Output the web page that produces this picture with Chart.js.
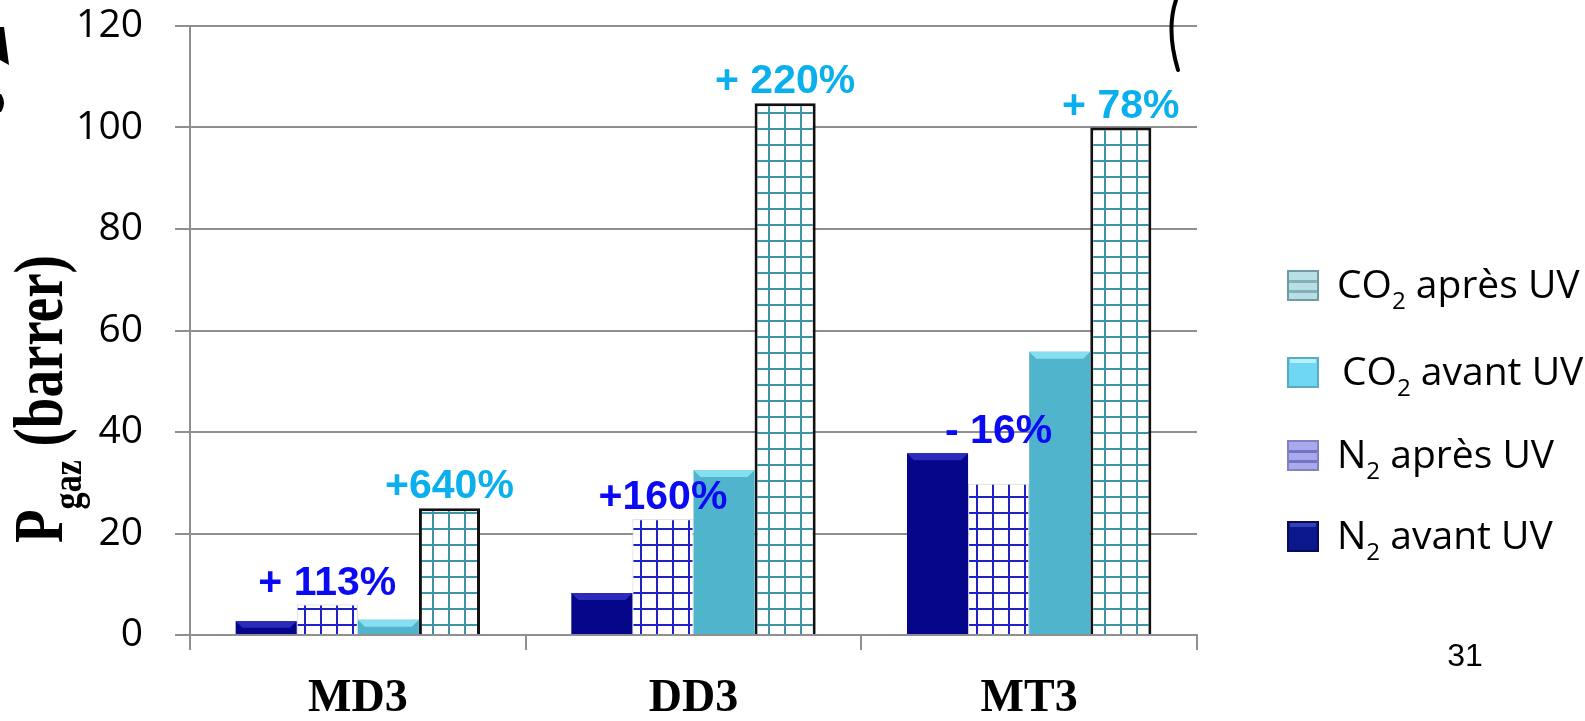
<!DOCTYPE html>
<html>
<head>
<meta charset="utf-8">
<script src="https://cdn.jsdelivr.net/npm/chart.js@4"></script>
<style>
  html, body { margin: 0; padding: 0; background: #fff; }
  #graf { display: block; width: 1585px; height: 721px; }
</style>
</head>
<body>
<canvas id="graf" width="1585" height="721"></canvas>
<script>
// valeurs (barrer)
const categories = ['MD3', 'DD3', 'MT3'];
const n2Avant = [2.7, 8.3, 35.8];
const n2Apres = [6, 22.8, 29.8];
const co2Avant = [3, 32.5, 55.8];
const co2Apres = [25, 104.8, 100];
const n2Change = ['+ 113%', '+160%', '- 16%'];
const co2Change = ['+640%', '+ 220%', '+ 78%'];
const yMin = 0, yMax = 120, yStep = 20;

const gris = '#8f8f8f';

// motif quadrillé pour les barres "après UV"
const quadrille = (couleur) => {
    const c = document.createElement('canvas');
    c.width = 16; c.height = 16;
    const g = c.getContext('2d');
    g.fillStyle = '#fff';
    g.fillRect(0, 0, 16, 16);
    g.fillStyle = couleur;
    g.fillRect(0, 0, 2, 16);
    g.fillRect(0, 0, 16, 2);
    return g.createPattern(c, 'repeat');
};

// biseau clair sur le haut des barres pleines
const bevelPlugin = {
    id: 'bevel',
    afterDatasetsDraw(chart) {
        const ctx = chart.ctx;
        [[0, '#2c2cb8'], [2, '#86dff0']].forEach(([ds, clair]) => {
            chart.getDatasetMeta(ds).data.forEach((bar) => {
                const l = bar.x - bar.width / 2, r = bar.x + bar.width / 2;
                const h = Math.min(7, (bar.base - bar.y) / 2);
                ctx.save();
                ctx.fillStyle = clair;
                ctx.beginPath();
                ctx.moveTo(l, bar.y);
                ctx.lineTo(r, bar.y);
                ctx.lineTo(r - 7, bar.y + h);
                ctx.lineTo(l + 7, bar.y + h);
                ctx.closePath();
                ctx.fill();
                ctx.restore();
            });
        });
    }
};

// pourcentages au-dessus des paires avant / après
const pourcentPlugin = {
    id: 'pourcent',
    afterDatasetsDraw(chart) {
        const ctx = chart.ctx;
        ctx.save();
        ctx.font = 'bold 41px "Liberation Sans", Arial, sans-serif';
        ctx.textAlign = 'center';
        ctx.textBaseline = 'alphabetic';
        categories.forEach((cat, i) => {
            [[0, 1, n2Change, '#0a0af5'], [2, 3, co2Change, '#0ab0ee']].forEach(([a, b, txt, col]) => {
                const barA = chart.getDatasetMeta(a).data[i];
                const barB = chart.getDatasetMeta(b).data[i];
                const top = Math.min(barA.y, barB.y);
                ctx.fillStyle = col;
                ctx.fillText(txt[i], barB.x, top - 10);
            });
        });
        ctx.restore();
    }
};

// texte avec indice (CO2, N2, Pgaz)
const texteIndice = (ctx, x, y, morceaux, taille, famille, poids) => {
    morceaux.forEach(([t, sub]) => {
        const s = sub ? taille * 0.62 : taille;
        ctx.font = poids + ' ' + s + 'px ' + famille;
        ctx.fillText(t, x, sub ? y + taille * 0.28 : y);
        x += ctx.measureText(t).width;
    });
};

const legende = [
    { morceaux: [['CO'], ['2', true], [' après UV']], fond: '#b9dee4', trait: '#7fb1ba', bord: '#6d9ba3', raye: true },
    { morceaux: [['CO'], ['2', true], [' avant UV']], fond: '#6fd6f3', trait: '#b5f1fb', bord: '#5aaac0', raye: false },
    { morceaux: [['N'], ['2', true], [' après UV']], fond: '#a9a9ec', trait: '#7373c6', bord: '#8282c2', raye: true },
    { morceaux: [['N'], ['2', true], [' avant UV']], fond: '#0b178c', trait: '#3442b5', bord: '#0a0a55', raye: false }
];

const decorPlugin = {
    id: 'decor',
    afterDraw(chart) {
        const ctx = chart.ctx;
        ctx.save();
        ctx.fillStyle = '#000';
        ctx.textAlign = 'left';
        ctx.textBaseline = 'alphabetic';

        // titre de l'axe Y, vertical
        ctx.save();
        ctx.translate(62, 543);
        ctx.rotate(-Math.PI / 2);
        ctx.scale(1, 1.25);
        texteIndice(ctx, 0, 0, [['P'], ['gaz', true], [' (barrer)']], 55, '"Liberation Serif", serif', 'bold');
        ctx.restore();

        // légende
        const rangs = [285, 372, 455, 536];
        legende.forEach((it, k) => {
            const yc = rangs[k];
            const bx = 1287, by = yc - 15, bw = 32, bh = 31;
            ctx.fillStyle = it.fond;
            ctx.fillRect(bx, by, bw, bh);
            ctx.fillStyle = it.trait;
            if (it.raye) {
                ctx.fillRect(bx, by + 10, bw, 3);
                ctx.fillRect(bx, by + 20, bw, 3);
            } else {
                ctx.fillRect(bx + 3, by, bw - 6, 6);
            }
            ctx.strokeStyle = it.bord;
            ctx.lineWidth = 2;
            ctx.strokeRect(bx + 1, by + 1, bw - 2, bh - 2);
            ctx.fillStyle = '#000';
            texteIndice(ctx, k === 1 ? 1342 : 1337, yc + 13, it.morceaux, 39, '"Open Sans", sans-serif', 'normal');
        });

        // numéro de diapo
        ctx.font = '32px "Liberation Sans", Arial, sans-serif';
        ctx.textAlign = 'center';
        ctx.fillText('31', 1465, 666);

        // traits à main levée en haut de la diapo
        ctx.strokeStyle = '#000';
        ctx.lineWidth = 4;
        ctx.lineCap = 'round';
        ctx.beginPath();
        ctx.moveTo(1176, 0);
        ctx.quadraticCurveTo(1166, 30, 1178, 70);
        ctx.stroke();
        ctx.beginPath();
        ctx.moveTo(0, 27);
        ctx.lineTo(4, 27);
        ctx.lineTo(9, 65);
        ctx.lineTo(0, 60);
        ctx.closePath();
        ctx.fill();
        ctx.beginPath();
        ctx.moveTo(0, 96);
        ctx.quadraticCurveTo(4, 103, 0, 110);
        ctx.stroke();
        ctx.restore();
    }
};

const ctx = document.getElementById('graf').getContext('2d');
const myChart = new Chart(ctx, {
    type: 'bar',
    data: {
        labels: categories,
        datasets: [
            { label: 'N2 avant UV', data: n2Avant, backgroundColor: '#06068a', borderWidth: 0 },
            { label: 'N2 après UV', data: n2Apres, backgroundColor: quadrille('#2020c6'), borderColor: '#cfcfcf', borderWidth: 1 },
            { label: 'CO2 avant UV', data: co2Avant, backgroundColor: '#50b4cd', borderWidth: 0 },
            { label: 'CO2 après UV', data: co2Apres, backgroundColor: quadrille('#3f93a7'), borderColor: '#111', borderWidth: 3 }
        ]
    },
    options: {
        responsive: false,
        devicePixelRatio: 1,
        animation: false,
        categoryPercentage: 0.728,
        barPercentage: 1.0,
        layout: { padding: { top: 0, right: 388, bottom: 0, left: 0 } },
        plugins: {
            legend: { display: false },
            tooltip: { enabled: false }
        },
        scales: {
            x: {
                afterFit: (s) => { s.height = 86; },
                grid: { display: true, drawOnChartArea: false, drawTicks: true, tickLength: 15, color: gris, lineWidth: 2, offset: true },
                border: { display: true, color: gris, width: 2 },
                ticks: {
                    color: '#000',
                    padding: 22,
                    font: { family: '"Liberation Serif", serif', size: 46, weight: 'bold' }
                }
            },
            y: {
                min: yMin,
                max: yMax,
                afterFit: (s) => { s.width = 190; s.paddingTop = 26; s.paddingBottom = 0; },
                grid: { color: gris, lineWidth: 2, tickLength: 15 },
                border: { display: true, color: gris, width: 2 },
                ticks: {
                    stepSize: yStep,
                    color: '#000',
                    padding: 32,
                    font: { family: '"Open Sans", sans-serif', size: 39 }
                }
            }
        }
    },
    plugins: [bevelPlugin, pourcentPlugin, decorPlugin]
});
</script>
</body>
</html>
